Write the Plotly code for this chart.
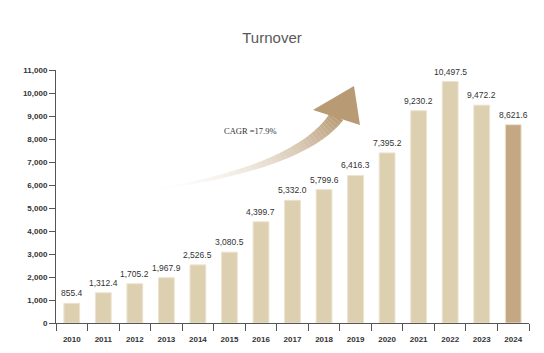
import plotly.graph_objects as go

years = ["2010","2011","2012","2013","2014","2015","2016","2017","2018","2019","2020","2021","2022","2023","2024"]
turnover = [855.4,1312.4,1705.2,1967.9,2526.5,3080.5,4399.7,5332.0,5799.6,6416.3,7395.2,9230.2,10497.5,9472.2,8621.6]
cagr_label = "CAGR =17.9%"

W, H = 544, 353
ML, MR, MT, MB = 56, 15, 70, 30
PW, PH = W - ML - MR, H - MT - MB

colors = ["#ddd0b0"] * (len(years) - 1) + ["#c4a884"]

fig = go.Figure(go.Bar(
    x=years, y=turnover, marker=dict(color=colors, line=dict(width=1, color="#ebe3cf")),
    width=0.5, hoverinfo="skip"))

value_annotations = [dict(x=i, y=v, xref="x", yref="y", text=f"{v:,.1f}", showarrow=False,
                          yanchor="bottom", yshift=3,
                          font=dict(size=8.5, color="#333333", family="Liberation Sans"))
                     for i, v in enumerate(turnover)]

def px2paper(x, y):
    return (x - ML) / PW, (H - MB - y) / PH

def bez(t, p0, p1, p2):
    return ((1-t)**2*p0[0] + 2*(1-t)*t*p1[0] + t*t*p2[0],
            (1-t)**2*p0[1] + 2*(1-t)*t*p1[1] + t*t*p2[1])
def dbez(t, p0, p1, p2):
    return (2*(1-t)*(p1[0]-p0[0]) + 2*t*(p2[0]-p1[0]),
            2*(1-t)*(p1[1]-p0[1]) + 2*t*(p2[1]-p1[1]))

P0, P1, P2 = (150, 190), (300, 168), (337, 116)
N = 40
pts = []
for i in range(N+1):
    t = i / N
    cx, cy = bez(t, P0, P1, P2)
    dx, dy = dbez(t, P0, P1, P2)
    L = (dx*dx + dy*dy) ** 0.5
    nx, ny = -dy / L, dx / L
    w = 0.5 + 7.0 * t ** 1.2
    pts.append(((cx + nx*w, cy + ny*w), (cx - nx*w, cy - ny*w)))
shapes = []
for i in range(N):
    a = ((i + 0.5) / N) ** 1.5
    q = [pts[i][0], pts[i+1][0], pts[i+1][1], pts[i][1]]
    path = "M " + " L ".join("%.4f,%.4f" % px2paper(*p) for p in q) + " Z"
    shapes.append(dict(type="path", xref="paper", yref="paper", path=path,
                       fillcolor="rgba(184,154,116,%.3f)" % a, line=dict(width=0), layer="above"))
head = [(354, 86), (313, 110), (360, 125)]
path = "M " + " L ".join("%.4f,%.4f" % px2paper(*p) for p in head) + " Z"
shapes.append(dict(type="path", xref="paper", yref="paper", path=path,
                   fillcolor="rgb(184,154,116)", line=dict(width=0), layer="above"))

ax, ay = px2paper(250, 124)
fig.update_layout(
    width=W, height=H, margin=dict(l=ML, r=MR, t=MT, b=MB),
    paper_bgcolor="white", plot_bgcolor="white", showlegend=False,
    title=dict(text="Turnover", x=0.5, xanchor="center", y=1 - 38/H, yanchor="middle",
               font=dict(size=15, color="#595959", family="Liberation Sans")),
    xaxis=dict(type="category", showgrid=False, showline=True, linecolor="#555555", linewidth=1,
               ticks="outside", tickson="boundaries", ticklen=7, tickcolor="#555555",
               ticklabelstandoff=8, range=[-0.5, len(years) - 0.5], automargin=False,
               tickfont=dict(size=8, color="#333333", family="Liberation Sans", weight="bold")),
    yaxis=dict(range=[0, 11000], dtick=1000, tickformat=",", showgrid=False, zeroline=False,
               showline=True, linecolor="#555555", linewidth=1, ticks="outside", ticklen=6,
               tickcolor="#555555", automargin=False,
               tickfont=dict(size=8, color="#333333", family="Liberation Sans", weight="bold")),
    shapes=shapes,
    annotations=value_annotations + [dict(text=cagr_label, xref="paper", yref="paper", x=ax, y=ay,
                      showarrow=False,
                      font=dict(size=8.5, color="#333333", family="Liberation Serif"))],
)
fig.write_html("out.html")
